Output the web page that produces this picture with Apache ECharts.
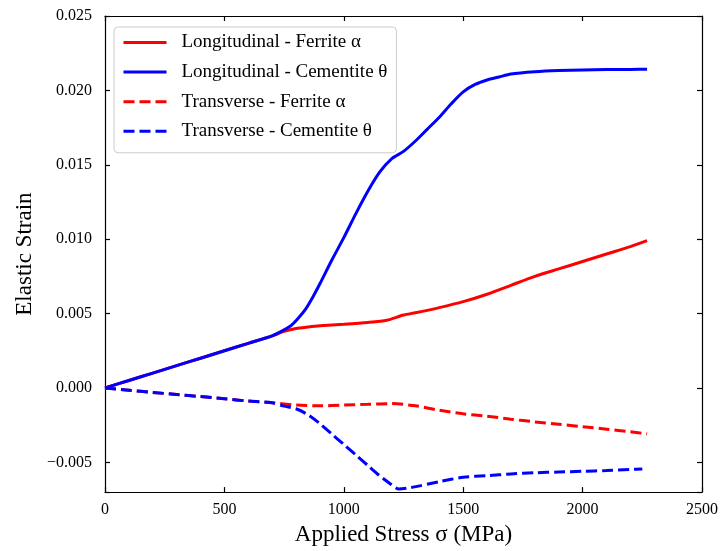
<!DOCTYPE html>
<html>
<head>
<meta charset="utf-8">
<script src="https://cdn.jsdelivr.net/npm/echarts@6/dist/echarts.min.js"></script>
<style>html,body{margin:0;padding:0;background:#fff}#c{width:722px;height:551px}</style>
</head>
<body>
<div id="c"></div>
<script>
const seriesNames = ['Longitudinal - Ferrite α', 'Longitudinal - Cementite θ', 'Transverse - Ferrite α', 'Transverse - Cementite θ'];
const xTicks = [0, 500, 1000, 1500, 2000, 2500];

const longFerriteX = [0, 100, 200, 300, 400, 500, 600, 700, 750, 800, 850, 900, 1000, 1100, 1180, 1250, 1300, 1400, 1500, 1600, 1700, 1800, 1900, 2000, 2100, 2200, 2270];
const longFerriteY = [0, 0.0005, 0.001, 0.0015, 0.002, 0.0025, 0.003, 0.0035, 0.0038, 0.0040, 0.0041, 0.00418, 0.00428, 0.0044, 0.00455, 0.0049, 0.00505, 0.0054, 0.0058, 0.0063, 0.0069, 0.0075, 0.0080, 0.0085, 0.0090, 0.0095, 0.0099];

const longCementiteX = [0, 100, 200, 300, 400, 500, 600, 700, 750, 780, 810, 840, 870, 900, 950, 1000, 1050, 1100, 1150, 1200, 1250, 1300, 1350, 1400, 1450, 1500, 1550, 1600, 1650, 1700, 1800, 1900, 2000, 2100, 2200, 2270];
const longCementiteY = [0, 0.0005, 0.001, 0.0015, 0.002, 0.0025, 0.003, 0.0035, 0.0039, 0.0042, 0.0047, 0.0053, 0.0061, 0.0070, 0.0086, 0.0101, 0.0117, 0.0132, 0.0145, 0.0154, 0.0159, 0.0166, 0.0174, 0.0182, 0.0191, 0.0199, 0.0204, 0.0207, 0.0209, 0.0211, 0.02125, 0.02133, 0.02137, 0.0214, 0.02141, 0.02142];

const transFerriteX = [0, 100, 200, 300, 400, 500, 600, 700, 800, 900, 1000, 1100, 1200, 1300, 1400, 1500, 1600, 1700, 1800, 1900, 2000, 2100, 2200, 2270];
const transFerriteY = [0, -0.00015, -0.0003, -0.00044, -0.00058, -0.00073, -0.00088, -0.001, -0.00115, -0.0012, -0.00115, -0.0011, -0.00105, -0.0012, -0.0015, -0.00174, -0.0019, -0.0021, -0.00228, -0.00244, -0.0026, -0.00277, -0.00295, -0.00308];

const transCementiteX = [0, 100, 200, 300, 400, 500, 600, 700, 750, 800, 850, 900, 950, 1000, 1050, 1100, 1150, 1200, 1230, 1280, 1400, 1500, 1600, 1700, 1800, 1900, 2000, 2100, 2200, 2250];
const transCementiteY = [0, -0.00015, -0.0003, -0.00044, -0.00058, -0.00073, -0.00088, -0.001, -0.00122, -0.0014, -0.0018, -0.0024, -0.0031, -0.0038, -0.0045, -0.0052, -0.0059, -0.0065, -0.0068, -0.0067, -0.0063, -0.0060, -0.0059, -0.00578, -0.0057, -0.00565, -0.0056, -0.00555, -0.00548, -0.00545];

const FONT = 'Liberation Serif';
const zip = (xs, ys) => xs.map((x, i) => [x, ys[i]]);
const fmtY = v => {
  const r = Math.round(v * 1000);
  if (r % 5 !== 0 || Math.abs(v * 1000 - r) > 1e-6) return '';
  return (v < 0 ? '\u2212' : '') + Math.abs(v).toFixed(3);
};

const axisCommon = {
  axisLine: { show: true, onZero: false, lineStyle: { color: '#000', width: 1.2 } },
  axisTick: { show: true, inside: true, length: 5, lineStyle: { color: '#000', width: 1.2 } },
  splitLine: { show: false }
};

const mkSeries = (name, data, color, dashed) => ({
  name, type: 'line', data, showSymbol: false, symbol: 'none',
  smooth: 0.25,
  lineStyle: { color, width: 3, type: dashed ? [11, 5] : 'solid' },
  itemStyle: { color },
  z: 3
});

const chart = echarts.init(document.getElementById('c'));
chart.setOption({
  animation: false,
  backgroundColor: '#fff',
  textStyle: { fontFamily: FONT },
  grid: { left: 105, right: 20, top: 16, bottom: 56 },
  legend: {
    orient: 'vertical', left: 114, top: 27,
    padding: [6, 9, 12, 8],
    itemWidth: 43, itemHeight: 14, itemGap: 10.6,
    backgroundColor: 'rgba(255,255,255,0.8)',
    borderColor: '#cccccc', borderWidth: 1, borderRadius: 4,
    itemStyle: { opacity: 0 },
    lineStyle: { width: 3 },
    textStyle: { fontFamily: FONT, fontSize: 19, color: '#000', padding: [0, 0, 0, 10] },
    data: seriesNames
  },
  xAxis: [
    Object.assign({}, axisCommon, {
      type: 'value', position: 'bottom', min: xTicks[0], max: xTicks[xTicks.length - 1], interval: 500,
      name: 'Applied Stress σ (MPa)', nameLocation: 'middle', nameGap: 30,
      nameTextStyle: { fontFamily: FONT, fontSize: 23, color: '#000' },
      axisLabel: { fontFamily: FONT, fontSize: 16, color: '#000', margin: 10, formatter: v => String(v) }
    }),
    Object.assign({}, axisCommon, {
      type: 'value', position: 'top', min: xTicks[0], max: xTicks[xTicks.length - 1], interval: 500,
      axisLabel: { show: false }
    })
  ],
  yAxis: [
    Object.assign({}, axisCommon, {
      type: 'value', position: 'left', min: -0.007, max: 0.025, splitNumber: 6,
      name: 'Elastic Strain', nameLocation: 'middle', nameGap: 59,
      nameTextStyle: { fontFamily: FONT, fontSize: 23, color: '#000' },
      axisLabel: { fontFamily: FONT, fontSize: 16, color: '#000', margin: 13, formatter: fmtY }
    }),
    Object.assign({}, axisCommon, {
      type: 'value', position: 'right', min: -0.007, max: 0.025, splitNumber: 6,
      axisLabel: { show: false }
    })
  ],
  series: [
    mkSeries(seriesNames[0], zip(longFerriteX, longFerriteY), '#ff0000', false),
    mkSeries(seriesNames[1], zip(longCementiteX, longCementiteY), '#0000ff', false),
    mkSeries(seriesNames[2], zip(transFerriteX, transFerriteY), '#ff0000', true),
    mkSeries(seriesNames[3], zip(transCementiteX, transCementiteY), '#0000ff', true)
  ]
});
</script>
</body>
</html>
